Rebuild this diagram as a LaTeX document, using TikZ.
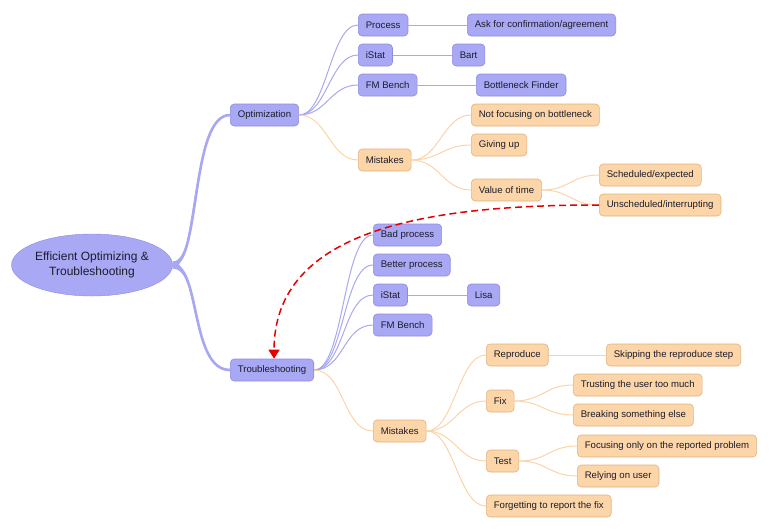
\documentclass[tikz,border=0pt]{standalone}
\usepackage{fontspec}
\setmainfont{Liberation Sans}
\usetikzlibrary{shapes.geometric,arrows.meta}
\definecolor{bfill}{HTML}{A8A8F4}
\definecolor{bdraw}{HTML}{8C8CE2}
\definecolor{bline}{HTML}{A8A8F2}
\definecolor{ofill}{HTML}{FCD5A8}
\definecolor{odraw}{HTML}{E2B27E}
\definecolor{oline}{HTML}{FAD4A8}
\definecolor{ink}{HTML}{1C1C2A}
\begin{document}
\begin{tikzpicture}[x=1pt,y=-1pt,
    box/.style={draw, rounded corners=4pt, anchor=west, minimum height=22pt,
      inner xsep=7.5pt, inner ysep=0pt, text=ink, line width=0.6pt,
      font=\fontsize{9.6}{11}\selectfont},
    bluebox/.style={box, fill=bfill, draw=bdraw},
    orangebox/.style={box, fill=ofill, draw=odraw},
    blueline/.style={bline, line width=1pt},
    orangeline/.style={oline, line width=1pt},
    rootline/.style={bline, line width=2.6pt}]
            \useasboundingbox (0,0) rectangle (770,531);

            % Define nodes
            \node[ellipse, draw=bdraw, fill=bfill, minimum width=156pt, minimum height=62pt,
              inner sep=0pt, align=center, text=ink, font=\fontsize{12}{15}\selectfont]
              (root) at (92,265) {Efficient Optimizing \&\\Troubleshooting};

            \node[bluebox] (opt) at (230,115) {Optimization};
            \node[bluebox] (proc) at (358,25) {Process};
            \node[bluebox] (ask) at (467,25) {Ask for confirmation/agreement};
            \node[bluebox] (istat) at (358,55) {iStat};
            \node[bluebox] (bart) at (452,55) {Bart};
            \node[bluebox] (fmb) at (358,85) {FM Bench};
            \node[bluebox] (finder) at (476,85) {Bottleneck Finder};
            \node[orangebox] (omist) at (358,160) {Mistakes};
            \node[orangebox] (notfoc) at (471,115) {Not focusing on bottleneck};
            \node[orangebox] (giveup) at (471,145) {Giving up};
            \node[orangebox] (valtime) at (471,190) {Value of time};
            \node[orangebox] (sched) at (599,175) {Scheduled/expected};
            \node[orangebox] (unsched) at (599,205) {Unscheduled/interrupting};

            \node[bluebox] (trouble) at (230,370) {Troubleshooting};
            \node[bluebox] (bad) at (373,235) {Bad process};
            \node[bluebox] (better) at (373,265) {Better process};
            \node[bluebox] (tistat) at (373,295) {iStat};
            \node[bluebox] (lisa) at (467,295) {Lisa};
            \node[bluebox] (tfmb) at (373,325) {FM Bench};
            \node[orangebox] (tmist) at (373,431) {Mistakes};
            \node[orangebox] (repro) at (486,355) {Reproduce};
            \node[orangebox] (skip) at (606,355) {Skipping the reproduce step};
            \node[orangebox] (fix) at (486,401) {Fix};
            \node[orangebox] (trust) at (573,385) {Trusting the user too much};
            \node[orangebox] (breaking) at (573,415) {Breaking something else};
            \node[orangebox] (test) at (486,461) {Test};
            \node[orangebox] (focus) at (577,446) {Focusing only on the reported problem};
            \node[orangebox] (rely) at (577,476) {Relying on user};
            \node[orangebox] (forget) at (486,506) {Forgetting to report the fix};

            % Draw edges (thicker towards the root)
            \draw[rootline] (root.east) .. controls +(28,0) and +(-40,0) .. (opt.west);
            \draw[rootline] (root.east) .. controls +(28,0) and +(-40,0) .. (trouble.west);
            \fill[bline] ([yshift=3.5pt]root.east) .. controls +(28,0) and +(-40,0) .. ([yshift=1pt]opt.west)
              -- ([yshift=-1pt]opt.west) .. controls +(-40,0) and +(24,0) .. ([yshift=-3.5pt]root.east) -- cycle;
            \fill[bline] ([yshift=3.5pt]root.east) .. controls +(24,0) and +(-40,0) .. ([yshift=1pt]trouble.west)
              -- ([yshift=-1pt]trouble.west) .. controls +(-40,0) and +(28,0) .. ([yshift=-3.5pt]root.east) -- cycle;

            \draw[blueline] (opt.east) .. controls +(28,0) and +(-28,0) .. (proc.west);
            \draw[blueline] (opt.east) .. controls +(28,0) and +(-28,0) .. (istat.west);
            \draw[blueline] (opt.east) .. controls +(28,0) and +(-28,0) .. (fmb.west);
            \draw[orangeline] (opt.east) .. controls +(28,0) and +(-28,0) .. (omist.west);
            \draw[blueline] (proc) -- (ask);
            \draw[blueline] (istat) -- (bart);
            \draw[blueline] (fmb) -- (finder);
            \draw[orangeline] (omist.east) .. controls +(28,0) and +(-28,0) .. (notfoc.west);
            \draw[orangeline] (omist.east) .. controls +(28,0) and +(-28,0) .. (giveup.west);
            \draw[orangeline] (omist.east) .. controls +(28,0) and +(-28,0) .. (valtime.west);
            \draw[orangeline] (valtime.east) .. controls +(28,0) and +(-28,0) .. (sched.west);
            \draw[orangeline] (valtime.east) .. controls +(28,0) and +(-28,0) .. (unsched.west);

            \draw[blueline] (trouble.east) .. controls +(30,0) and +(-30,0) .. (bad.west);
            \draw[blueline] (trouble.east) .. controls +(30,0) and +(-30,0) .. (better.west);
            \draw[blueline] (trouble.east) .. controls +(30,0) and +(-30,0) .. (tistat.west);
            \draw[blueline] (trouble.east) .. controls +(30,0) and +(-30,0) .. (tfmb.west);
            \draw[orangeline] (trouble.east) .. controls +(30,0) and +(-30,0) .. (tmist.west);
            \draw[blueline] (tistat) -- (lisa);
            \draw[orangeline] (tmist.east) .. controls +(28,0) and +(-28,0) .. (repro.west);
            \draw[orangeline] (tmist.east) .. controls +(28,0) and +(-28,0) .. (fix.west);
            \draw[orangeline] (tmist.east) .. controls +(28,0) and +(-28,0) .. (test.west);
            \draw[orangeline] (tmist.east) .. controls +(28,0) and +(-28,0) .. (forget.west);
            \draw[orangeline] (repro) -- (skip);
            \draw[orangeline] (fix.east) .. controls +(28,0) and +(-28,0) .. (trust.west);
            \draw[orangeline] (fix.east) .. controls +(28,0) and +(-28,0) .. (breaking.west);
            \draw[orangeline] (test.east) .. controls +(28,0) and +(-28,0) .. (focus.west);
            \draw[orangeline] (test.east) .. controls +(28,0) and +(-28,0) .. (rely.west);

            \draw[red!90!black, line width=1.5pt, dash pattern=on 7pt off 4pt,
              -{Triangle[width=11pt,length=9pt]}]
              (unsched.west) .. controls +(-170,0) and +(0,-130) .. ([xshift=2pt]trouble.north);
\end{tikzpicture}
\end{document}
